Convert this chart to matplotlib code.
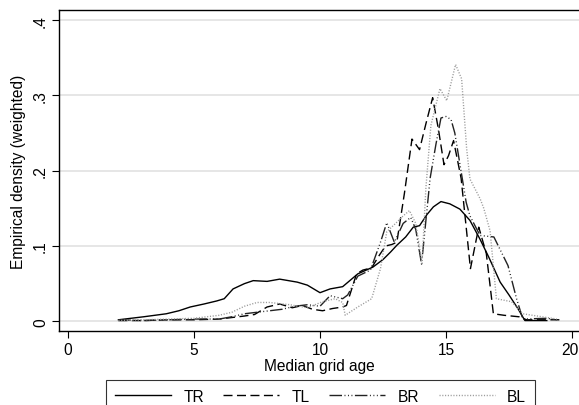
import matplotlib
matplotlib.use("Agg")
import matplotlib.pyplot as plt
from matplotlib.lines import Line2D
from matplotlib.transforms import ScaledTranslation

plt.rcParams['font.family'] = ['Liberation Sans', 'DejaVu Sans']

# Weighted empirical densities of median grid age, by group
tr_x = [2.0, 3.0, 3.9, 4.4, 4.85, 5.4, 5.9, 6.2, 6.55, 7.0, 7.35, 7.9, 8.4, 9.1, 9.5,
        10.0, 10.4, 10.9, 11.5, 12.1, 12.5, 12.8, 13.05, 13.4, 13.7, 13.95, 14.25, 14.5,
        14.8, 15.15, 15.55, 15.95, 16.35, 16.7, 17.15, 17.5, 17.87, 18.13, 19.0]
tr_y = [0.002, 0.006, 0.010, 0.014, 0.019, 0.023, 0.027, 0.030, 0.043, 0.050, 0.054, 0.053,
        0.056, 0.052, 0.048, 0.038, 0.043, 0.046, 0.063, 0.072, 0.082, 0.092, 0.101, 0.112,
        0.125, 0.127, 0.142, 0.152, 0.159, 0.156, 0.149, 0.134, 0.109, 0.085, 0.052, 0.035,
        0.016, 0.001, 0.001]

tl_x = [2.0, 3.0, 4.0, 5.0, 6.0, 6.5, 7.0, 7.4, 7.9, 8.4, 8.9, 9.3, 9.7, 10.1, 10.5, 10.9,
        11.05, 11.45, 11.7, 12.05, 12.3, 12.6, 12.85, 13.05, 13.35, 13.65, 13.95, 14.2,
        14.47, 14.7, 14.92, 15.1, 15.3, 15.6, 15.97, 16.3, 16.6, 16.88, 17.3, 17.9, 18.2, 19.5]
tl_y = [0.001, 0.001, 0.002, 0.002, 0.003, 0.005, 0.007, 0.009, 0.019, 0.023, 0.018, 0.021,
        0.016, 0.014, 0.017, 0.019, 0.021, 0.063, 0.068, 0.071, 0.085, 0.100, 0.102, 0.105,
        0.170, 0.242, 0.228, 0.262, 0.297, 0.255, 0.208, 0.220, 0.240, 0.190, 0.070, 0.125,
        0.090, 0.010, 0.008, 0.006, 0.002, 0.002]

br_x = [2.0, 3.0, 4.0, 5.0, 6.0, 6.5, 7.0, 7.5, 8.0, 8.5, 9.0, 9.5, 10.0, 10.4, 10.9, 11.1,
        11.5, 12.0, 12.4, 12.65, 12.95, 13.3, 13.6, 13.8, 14.03, 14.37, 14.6, 14.8, 15.0,
        15.2, 15.35, 15.8, 15.95, 16.35, 16.9, 17.46, 17.8, 18.05, 19.0, 19.4]
br_y = [0.002, 0.001, 0.002, 0.003, 0.003, 0.006, 0.010, 0.012, 0.014, 0.016, 0.020, 0.022,
        0.020, 0.034, 0.030, 0.035, 0.060, 0.068, 0.105, 0.131, 0.105, 0.130, 0.138, 0.122,
        0.076, 0.190, 0.235, 0.270, 0.272, 0.268, 0.250, 0.158, 0.140, 0.114, 0.112, 0.074,
        0.030, 0.003, 0.004, 0.002]

bl_x = [2.0, 3.0, 4.0, 5.0, 6.0, 6.5, 7.0, 7.5, 8.0, 8.8, 9.5, 10.1, 10.6, 10.9, 11.0, 11.5,
        12.05, 12.4, 12.65, 13.0, 13.3, 13.55, 13.8, 14.05, 14.2, 14.4, 14.76, 15.03, 15.38,
        15.62, 15.82, 15.95, 16.35, 16.5, 16.75, 17.0, 17.6, 18.05, 19.0, 19.4]
bl_y = [0.001, 0.002, 0.003, 0.004, 0.008, 0.012, 0.020, 0.025, 0.025, 0.022, 0.018, 0.026,
        0.030, 0.025, 0.008, 0.019, 0.030, 0.070, 0.119, 0.130, 0.140, 0.147, 0.130, 0.077,
        0.176, 0.260, 0.309, 0.293, 0.341, 0.322, 0.229, 0.189, 0.163, 0.150, 0.120, 0.030,
        0.026, 0.010, 0.005, 0.003]

series_names = ["TR", "TL", "BR", "BL"]
x_ticks = [0, 5, 10, 15, 20]
y_ticks = [0, 0.1, 0.2, 0.3, 0.4]
y_tick_labels = ["0", ".1", ".2", ".3", ".4"]

FS = 11.2
W, H = 579, 406
fig = plt.figure(figsize=(W / 100, H / 100), dpi=100)
fig.patch.set_facecolor("white")

ax_left, ax_right, ax_top, ax_bottom = 59, 579, 11, 332
ax = fig.add_axes([ax_left / W, 1 - ax_bottom / H,
                   (ax_right - ax_left) / W, (ax_bottom - ax_top) / H])

# data ranges chosen so that 0 and 20 / 0 and .4 land on the tick positions
px_per_x = 25.2
x0_px = 68
ax.set_xlim((ax_left - x0_px) / px_per_x, (ax_right - x0_px) / px_per_x)
px_per_y = 753.0
y0_px = 322.3
ax.set_ylim((y0_px - ax_bottom) / px_per_y, (y0_px - ax_top) / px_per_y)

for yv in y_ticks:
    ax.axhline(yv, color="#e6e6e6", lw=1.4, zorder=0)

tl_dash = (6.5, 3.2)
br_dash = (9, 1.8, 0.7, 1.8, 0.7, 1.8, 0.7, 1.8)
bl_dash = (0.8, 1.2)

ax.plot(tr_x, tr_y, color="black", lw=1.0)
ax.plot(tl_x, tl_y, color="black", lw=1.0, dashes=tl_dash)
ax.plot(br_x, br_y, color="#222222", lw=1.0, dashes=br_dash)
ax.plot(bl_x, bl_y, color="#9a9a9a", lw=1.0, dashes=bl_dash)

ax.spines["right"].set_visible(False)
for s in ["left", "top", "bottom"]:
    ax.spines[s].set_linewidth(1.0)
    ax.spines[s].set_color("black")

ax.set_xticks(x_ticks)
ax.set_xticklabels([str(t) for t in x_ticks])
ax.set_yticks(y_ticks)
ax.set_yticklabels(y_tick_labels, rotation=90, va="center")
ax.tick_params(axis="both", direction="out", length=5, width=0.8, labelsize=FS,
               color="black", pad=3)

# keep the last x tick label inside the canvas
last = ax.get_xticklabels()[-1]
last.set_transform(last.get_transform() + ScaledTranslation(-2.5 / 100, 0, fig.dpi_scale_trans))

ax.set_xlabel("Median grid age", fontsize=FS, labelpad=1)
ax.set_ylabel("Empirical density (weighted)", fontsize=FS, labelpad=5)

handles = [
    Line2D([], [], color="black", lw=1.0),
    Line2D([], [], color="black", lw=1.0, dashes=tl_dash),
    Line2D([], [], color="#222222", lw=1.0, dashes=br_dash),
    Line2D([], [], color="#9a9a9a", lw=1.0, dashes=bl_dash),
]
leg = fig.legend(handles, series_names, loc="upper center",
                 bbox_to_anchor=((103 + 538) / 2 / W, 1 - 381 / H),
                 ncol=4, frameon=True, fancybox=False, fontsize=FS,
                 handlelength=3.6, handletextpad=0.8, columnspacing=1.25,
                 borderpad=0.55, borderaxespad=0)
leg.get_frame().set_edgecolor("black")
leg.get_frame().set_linewidth(0.8)

fig.savefig("out.png", dpi=100, facecolor="white")
